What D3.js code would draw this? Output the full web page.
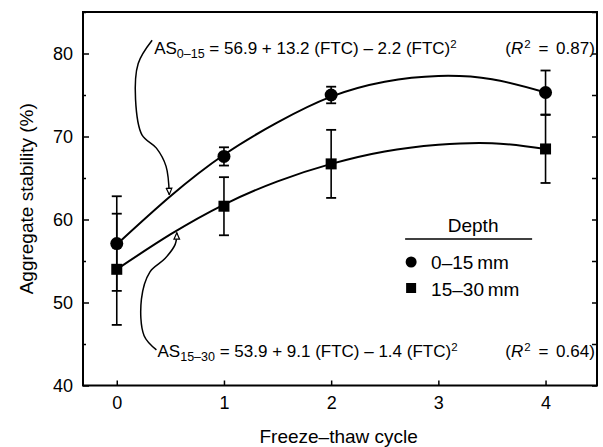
<!DOCTYPE html>
<html>
<head>
<meta charset="utf-8">
<script src="https://cdn.jsdelivr.net/npm/d3@7"></script>
<style>
  body { margin: 0; background: #fff; }
  text { font-family: "Liberation Sans", Arial, Helvetica, sans-serif; fill: #000; }
</style>
</head>
<body>
<div id="chart"></div>
<script>
// data
var cycles = [0, 1, 2, 4];
var as0_15 = [57.1, 67.6, 75.0, 75.3];
var err0_15 = [5.7, 1.1, 1.0, 2.65];
var as15_30 = [54.0, 61.6, 66.7, 68.5];
var err15_30 = [6.7, 3.5, 4.1, 4.1];

// fitted curves
var fitX = [0, 0.5, 1, 1.5, 2, 2.5, 3, 3.5, 4];
var fit0_15 = [57.0, 62.8, 67.8, 71.7, 74.8, 76.6, 77.3, 76.9, 75.3];
var fit15_30 = [54.0, 58.2, 61.8, 64.6, 66.7, 68.2, 69.0, 69.2, 68.5];

var xTicks = [0, 1, 2, 3, 4];
var yTicks = [40, 50, 60, 70, 80];
var yMinor = [45, 55, 65, 75, 85];
var depthLabels = ["0\u201315\u2009mm", "15\u201330\u2009mm"];

// annotation brackets (data units)
var bracketTop = [[0.33, 81.6], [0.2, 78.8], [0.175, 74.5], [0.235, 70.2], [0.37, 68.6], [0.46, 66.4], [0.49, 63.0]];
var bracketBottom = [[0.37, 44.3], [0.255, 46.0], [0.23, 50.4], [0.31, 53.7], [0.45, 55.3], [0.545, 57.0], [0.56, 58.4]];

var svgWidth = 603;
var svgHeight = 447;
var margin = { top: 12, right: 6, bottom: 61.5, left: 83 };
var width = svgWidth - margin.left - margin.right;
var height = svgHeight - margin.top - margin.bottom;

var svg = d3.select("#chart")
  .append("svg")
  .attr("width", svgWidth)
  .attr("height", svgHeight);

var defs = svg.append("defs");
defs.append("marker")
  .attr("id", "head")
  .attr("viewBox", "0 0 10 10")
  .attr("refX", 9)
  .attr("refY", 5)
  .attr("markerWidth", 8)
  .attr("markerHeight", 8)
  .attr("markerUnits", "userSpaceOnUse")
  .attr("orient", "auto")
  .append("path")
  .attr("d", "M1,1.5 L9,5 L1,8.5 Z")
  .attr("fill", "#fff")
  .attr("stroke", "#000")
  .attr("stroke-width", 1.5);

var chartGroup = svg.append("g")
  .attr("transform", `translate(${margin.left}, ${margin.top})`);

var xScale = d3.scaleLinear().domain([-0.315, 4.48]).range([0, width]);
var yScale = d3.scaleLinear().domain([40, 85]).range([height, 0]);

// axes with inward ticks
chartGroup.append("g")
  .call(d3.axisLeft(yScale).tickValues(yTicks).tickSize(-6).tickPadding(10).tickFormat(d3.format("d")));
chartGroup.append("g")
  .call(d3.axisLeft(yScale).tickValues(yMinor).tickSize(-3).tickFormat(""));
chartGroup.append("g")
  .attr("transform", `translate(${width},0)`)
  .call(d3.axisRight(yScale).tickValues(yTicks.concat(yMinor)).tickSize(-5).tickFormat(""));
chartGroup.append("g")
  .attr("transform", `translate(0,${height})`)
  .call(d3.axisBottom(xScale).tickValues(xTicks).tickSize(-5).tickPadding(11).tickFormat(d3.format("d")));
chartGroup.selectAll(".domain").remove();
chartGroup.selectAll(".tick line").attr("stroke", "#000").attr("stroke-width", 1.5);
chartGroup.selectAll(".tick text").style("font-size", "18px").attr("fill", "#000");

// frame
chartGroup.append("rect")
  .attr("width", width)
  .attr("height", height)
  .attr("fill", "none")
  .attr("stroke", "#000")
  .attr("stroke-width", 2);

// fitted curves
var line = d3.line()
  .x(d => xScale(d[0]))
  .y(d => yScale(d[1]))
  .curve(d3.curveNatural);

[fit0_15, fit15_30].forEach(function(fit) {
  chartGroup.append("path")
    .datum(fitX.map((x, i) => [x, fit[i]]))
    .attr("d", line)
    .attr("fill", "none")
    .attr("stroke", "#000")
    .attr("stroke-width", 2);
});

// error bars
function errorBars(vals, errs) {
  var g = chartGroup.append("g");
  cycles.forEach(function(c, i) {
    var x = xScale(c);
    var y0 = yScale(vals[i] - errs[i]);
    var y1 = yScale(vals[i] + errs[i]);
    g.append("line").attr("x1", x).attr("x2", x).attr("y1", y0).attr("y2", y1)
      .attr("stroke", "#000").attr("stroke-width", 1.6);
    [y0, y1].forEach(function(y) {
      g.append("line").attr("x1", x - 5).attr("x2", x + 5).attr("y1", y).attr("y2", y)
        .attr("stroke", "#000").attr("stroke-width", 1.8);
    });
  });
}
errorBars(as0_15, err0_15);
errorBars(as15_30, err15_30);

// points
chartGroup.selectAll("circle.pt")
  .data(cycles)
  .enter()
  .append("circle")
  .attr("cx", d => xScale(d))
  .attr("cy", (d, i) => yScale(as0_15[i]))
  .attr("r", 6.5)
  .attr("fill", "#000");

chartGroup.selectAll("rect.pt")
  .data(cycles)
  .enter()
  .append("rect")
  .attr("x", d => xScale(d) - 5.5)
  .attr("y", (d, i) => yScale(as15_30[i]) - 5.5)
  .attr("width", 11)
  .attr("height", 11)
  .attr("fill", "#000");

// annotation brackets
var bracket = d3.line()
  .x(d => xScale(d[0]))
  .y(d => yScale(d[1]))
  .curve(d3.curveCatmullRom);

[bracketTop, bracketBottom].forEach(function(b) {
  chartGroup.append("path")
    .datum(b)
    .attr("d", bracket)
    .attr("fill", "none")
    .attr("stroke", "#000")
    .attr("stroke-width", 1.5)
    .attr("marker-end", "url(#head)");
});

// equations
function equation(x, y, sub, rest, r2) {
  var t = chartGroup.append("text")
    .attr("x", x)
    .attr("y", y)
    .style("font-size", "17px");
  t.append("tspan").text("AS");
  t.append("tspan").attr("dy", 4).style("font-size", "12.5px").text(sub);
  t.append("tspan").attr("dy", -4).text(rest);
  t.append("tspan").attr("dy", -6).style("font-size", "11.5px").text("2");
  var r = chartGroup.append("text")
    .attr("x", xScale(4.46))
    .attr("y", y)
    .attr("text-anchor", "end")
    .style("font-size", "17px")
    .style("word-spacing", "3px");
  r.append("tspan").text("(");
  r.append("tspan").style("font-style", "italic").text("R");
  r.append("tspan").attr("dy", -6).attr("dx", 1).style("font-size", "11.5px").text("2");
  r.append("tspan").attr("dy", 6).text(" = " + r2 + ")");
}
equation(xScale(0.33) + 2, yScale(79.9), "0\u201315", " = 56.9 + 13.2 (FTC) \u2013 2.2 (FTC)", "0.87");
equation(xScale(0.38), yScale(43.4), "15\u201330", " = 53.9 + 9.1 (FTC) \u2013 1.4 (FTC)", "0.64");

// legend
var legend = chartGroup.append("g")
  .attr("transform", `translate(${xScale(2.69)}, ${yScale(57.65)})`);
legend.append("text")
  .attr("x", 68)
  .attr("y", -7)
  .attr("text-anchor", "middle")
  .style("font-size", "19px")
  .text("Depth");
legend.append("line")
  .attr("x1", 0).attr("x2", 127)
  .attr("y1", 0).attr("y2", 0)
  .attr("stroke", "#000").attr("stroke-width", 1.5);
legend.append("circle").attr("cx", 6).attr("cy", 23).attr("r", 5.5).attr("fill", "#000");
legend.append("rect").attr("x", 1).attr("y", 44).attr("width", 10).attr("height", 10).attr("fill", "#000");
depthLabels.forEach(function(lbl, i) {
  legend.append("text")
    .attr("x", 26)
    .attr("y", 30 + i * 27)
    .style("font-size", "19px")
    .text(lbl);
});

// axis labels
svg.append("text")
  .attr("transform", `translate(33, ${margin.top + yScale(62.5)}) rotate(-90)`)
  .attr("text-anchor", "middle")
  .style("font-size", "19px")
  .text("Aggregate stability (%)");

svg.append("text")
  .attr("x", margin.left + xScale(2.07))
  .attr("y", 443)
  .attr("text-anchor", "middle")
  .style("font-size", "19px")
  .text("Freeze\u2013thaw cycle");
</script>
</body>
</html>
